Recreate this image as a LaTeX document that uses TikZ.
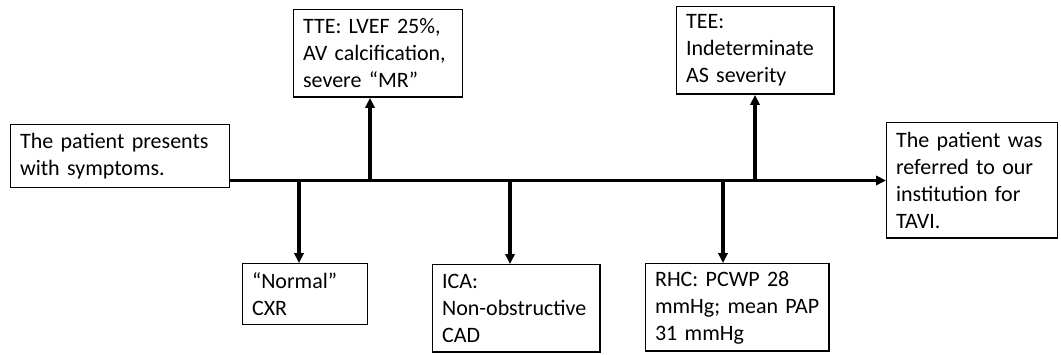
\documentclass[tikz,border=0pt]{standalone}
\usepackage{fontspec}
\setmainfont{Carlito}
\usetikzlibrary{arrows.meta}

\tikzset{
  event/.style={draw, line width=1.1pt, anchor=north west, align=left,
    inner xsep=7pt, inner ysep=0pt, font=\fontsize{16.5}{20.25}\selectfont},
  stem/.style={line width=2.3pt, -{Triangle[length=7.5pt,width=7pt]}}
}

\begin{document}
\begin{tikzpicture}[x=0.75pt,y=-0.75pt]
  \useasboundingbox (0,0) rectangle (1061,354);

  \node[event, text width=150pt, minimum height=46.9pt] (start) at (10,124)
    {The patient presents\\with symptoms.};
  \node[event, text width=112.4pt, minimum height=65.6pt] (tte) at (293,9)
    {TTE: LVEF 25\%,\\AV calcification,\\severe “MR”};
  \node[event, text width=104.1pt, minimum height=65.6pt] (tee) at (676,6)
    {TEE:\\Indeterminate\\AS severity};
  \node[event, text width=113.9pt, minimum height=86.6pt] (tavi) at (886,122)
    {The patient was\\referred to our\\institution for\\TAVI.};
  \node[event, text width=79.4pt, minimum height=45.4pt] (cxr) at (242,263)
    {“Normal”\\CXR};
  \node[event, text width=111.6pt, minimum height=65.6pt] (ica) at (432,264)
    {ICA:\\Non-obstructive\\CAD};
  \node[event, text width=123.6pt, minimum height=65.6pt] (rhc) at (645,263)
    {RHC: PCWP 28\\mmHg; mean PAP\\31 mmHg};

  \coordinate (pCXR) at (299,180);
  \coordinate (pTTE) at (370,180);
  \coordinate (pICA) at (510,180);
  \coordinate (pRHC) at (723,180);
  \coordinate (pTEE) at (755,180);

  \draw[line width=2.5pt, -{Triangle[length=7.5pt,width=7pt]}]
    (start.east |- tavi.west) -- (tavi.west);
  \draw[stem] (pCXR) -- (pCXR |- cxr.north);
  \draw[stem] (pTTE) -- (pTTE |- tte.south);
  \draw[stem] (pICA) -- (pICA |- ica.north);
  \draw[stem] (pRHC) -- (pRHC |- rhc.north);
  \draw[stem] (pTEE) -- (pTEE |- tee.south);
\end{tikzpicture}
\end{document}
